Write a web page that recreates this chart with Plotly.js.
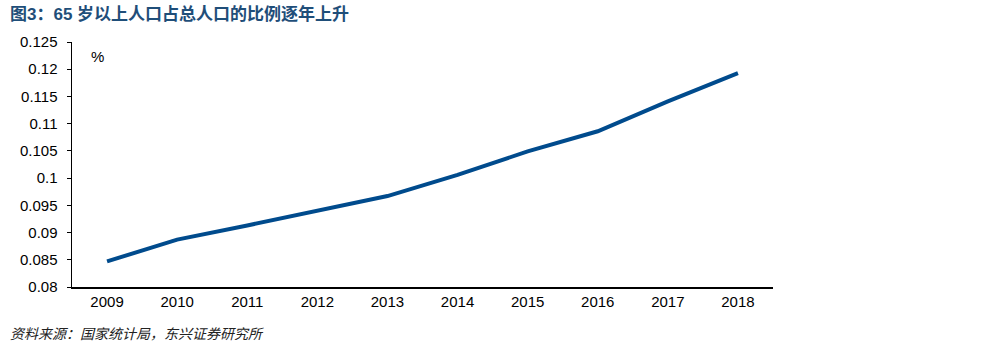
<!DOCTYPE html>
<html><head><meta charset="utf-8">
<script src="https://cdn.plot.ly/plotly-3.0.1.min.js"></script>
<style>html,body{margin:0;padding:0;background:#fff}#c{width:1000px;height:355px}</style>
</head><body><div id="c"></div>
<script>
const years = ['2009','2010','2011','2012','2013','2014','2015','2016','2017','2018'];
const ratio = [0.0847,0.0887,0.0913,0.0940,0.0967,0.1006,0.1049,0.1086,0.1141,0.1193];
const yTicks = [0.08,0.085,0.09,0.095,0.1,0.105,0.11,0.115,0.12,0.125];
const yTickText = ['0.08','0.085','0.09','0.095','0.1','0.105','0.11','0.115','0.12','0.125'];

Plotly.newPlot('c', [{
  x: years, y: ratio, type: 'scatter', mode: 'lines',
  line: {color: '#004B8D', width: 4}, hoverinfo: 'skip'
}], {
  width: 1000, height: 355,
  margin: {l: 72, r: 227, t: 42, b: 68},
  paper_bgcolor: '#fff', plot_bgcolor: '#fff',
  font: {family: 'Liberation Sans, Arial, sans-serif', size: 15, color: '#000'},
  showlegend: false,
  xaxis: {type: 'category', range: [-0.5, 9.5], showline: true, linecolor: '#000', linewidth: 1.5,
    ticks: '', showgrid: false, zeroline: false, tickfont: {size: 15}},
  yaxis: {range: [0.08, 0.125], tickvals: yTicks, ticktext: yTickText, showline: true,
    linecolor: '#000', linewidth: 1.5, ticks: 'outside', ticklen: 4, tickcolor: '#000',
    ticklabelstandoff: 6,
    showgrid: false, zeroline: false, tickfont: {size: 15}},
  annotations: [
    {text: '图3：65 岁以上人口占总人口的比例逐年上升', xref: 'paper', yref: 'paper', x: -72/701, y: 1+ (42-14)/245,
     xanchor: 'left', yanchor: 'middle', showarrow: false, xshift: 8,
     font: {family: 'Liberation Sans, Noto Sans CJK SC, sans-serif', size: 17, color: '#1F4E79', weight: 'bold'}},
    {text: '%', xref: 'paper', yref: 'paper', x: 25/701, y: 1-(57-42)/245, xanchor: 'center', yanchor: 'middle',
     showarrow: false, font: {size: 15, color: '#000'}},
    {text: '<i>资料来源：国家统计局，东兴证券研究所</i>', xref: 'paper', yref: 'paper', x: -72/701, y: -(333-287)/245,
     xanchor: 'left', yanchor: 'middle', showarrow: false, xshift: 8,
     font: {family: 'Noto Sans CJK SC, sans-serif', size: 14, color: '#222'}}
  ]
}, {staticPlot: true});
</script></body></html>
